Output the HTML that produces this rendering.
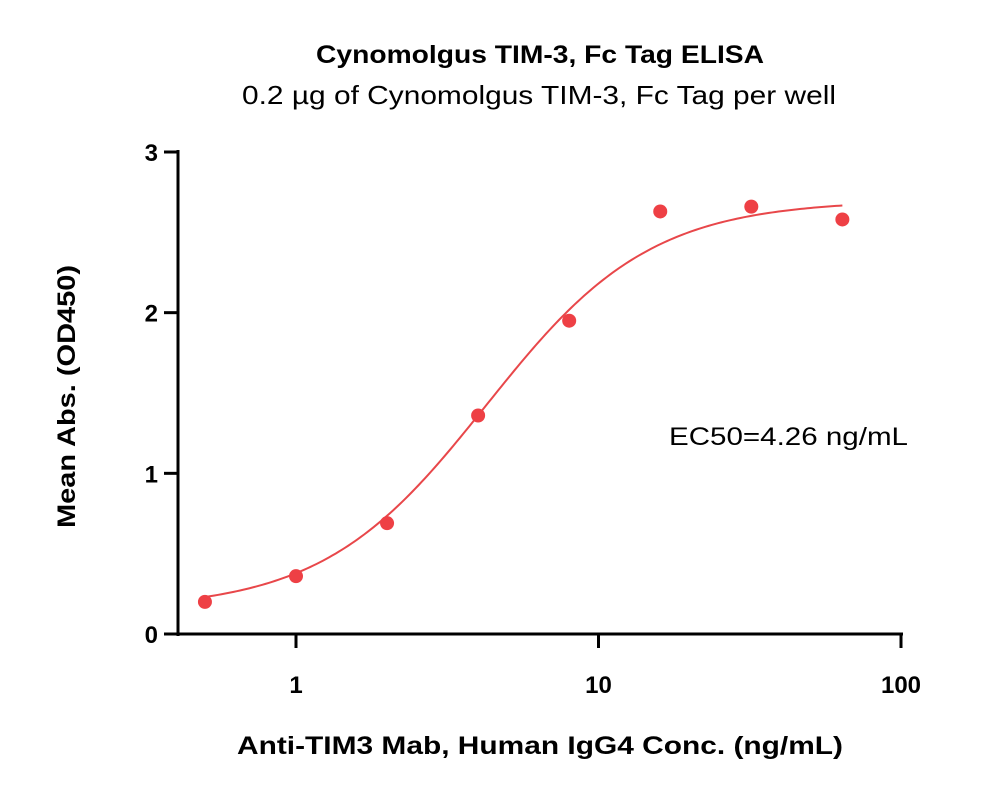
<!DOCTYPE html>
<html><head><meta charset="utf-8"><style>
html,body{margin:0;padding:0;background:#fff;}
svg{display:block;font-family:"Liberation Sans",Arial,sans-serif;}
</style></head><body>
<svg id="chart" width="1000" height="798" viewBox="0 0 1000 798">
<text x="316" y="63" font-size="25" font-weight="bold" textLength="448" lengthAdjust="spacingAndGlyphs">Cynomolgus TIM-3, Fc Tag ELISA</text>
<text x="242" y="104" font-size="26" textLength="594" lengthAdjust="spacingAndGlyphs">0.2 µg of Cynomolgus TIM-3, Fc Tag per well</text>
<text transform="translate(75,528) rotate(-90)" font-size="25" font-weight="bold" textLength="263" lengthAdjust="spacingAndGlyphs">Mean Abs. (OD450)</text>
<text x="237" y="754" font-size="25" font-weight="bold" textLength="606" lengthAdjust="spacingAndGlyphs">Anti-TIM3 Mab, Human IgG4 Conc. (ng/mL)</text>
<text x="669" y="445" font-size="25" textLength="239" lengthAdjust="spacingAndGlyphs">EC50=4.26 ng/mL</text>
<g id="axes"></g>
<g id="marks"></g>
</svg>
<script>
const concs = [0.5, 1, 2, 4, 8, 16, 32, 64];
const absValues = [0.20, 0.36, 0.69, 1.36, 1.95, 2.63, 2.66, 2.58];
const yTicks = [0, 1, 2, 3];
const xTicks = [1, 10, 100];
const fitParams = [0.15, 2.7, 4.26, 1.6]; // bottom, top, ec50, hill

const NS = "http://www.w3.org/2000/svg";
const X0 = 178, X1 = 901, Y0 = 634, Y1 = 152;
function xs(v){ return 296 + Math.log10(v) * 302.5; }
function ys(v){ return Y0 - (v / 3) * (Y0 - Y1); }
function mk(tag, attrs, parent){
  const e = document.createElementNS(NS, tag);
  for (const k in attrs) e.setAttribute(k, attrs[k]);
  parent.appendChild(e); return e;
}
const axes = document.getElementById('axes');
const marks = document.getElementById('marks');

let yl = mk('line', {x1:X0, y1:Y1-2, x2:X0, y2:Y0+2, stroke:'#000', 'stroke-width':3}, axes);


let xl = mk('line', {x1:X0, y1:Y0, x2:X1+2, y2:Y0, stroke:'#000', 'stroke-width':3}, axes);



yTicks.forEach(t => {
  const y = ys(t);
  const tk = mk('line', {x1:X0-14, y1:y, x2:X0, y2:y, stroke:'#000', 'stroke-width':3}, axes);
  
  
  const lb = mk('text', {x:X0-20, y:y+9, 'text-anchor':'end', 'font-size':24, 'font-weight':'bold'}, axes);
  lb.textContent = t;
  
  
});
xTicks.forEach(t => {
  const x = xs(t);
  const tk = mk('line', {x1:x, y1:Y0, x2:x, y2:Y0+14, stroke:'#000', 'stroke-width':3}, axes);
  
  
  const lb = mk('text', {x:x, y:Y0+59, 'text-anchor':'middle', 'font-size':24, 'font-weight':'bold'}, axes);
  lb.textContent = t;
  
  
});

function fit(c){
  const [b, t, e, h] = fitParams;
  return b + (t - b) / (1 + Math.pow(e / c, h));
}
let d = '';
const lo = Math.log10(concs[0]), hi = Math.log10(concs[concs.length-1]);
for (let i = 0; i <= 200; i++){
  const c = Math.pow(10, lo + (hi - lo) * i / 200);
  d += (i ? 'L' : 'M') + xs(c).toFixed(2) + ',' + ys(fit(c)).toFixed(2);
}
const curve = mk('path', {d:d, fill:'none', stroke:'#e8474a', 'stroke-width':2}, marks);



concs.forEach((c, i) => {
  const p = mk('circle', {cx:xs(c), cy:ys(absValues[i]), r:7, fill:'#ee4045'}, marks);
  
  
});
</script>
</body></html>
